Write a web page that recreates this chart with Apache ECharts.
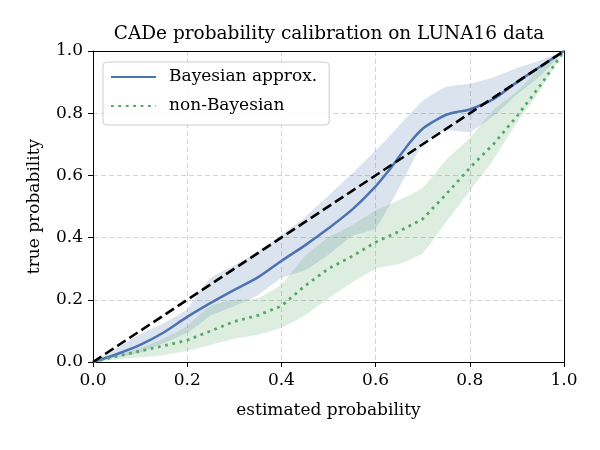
<!DOCTYPE html>
<html>
<head>
<meta charset="utf-8">
<script src="https://cdn.jsdelivr.net/npm/echarts@6/dist/echarts.min.js"></script>
<style>
  html, body { margin: 0; padding: 0; background: #fff; }
  #chart { width: 600px; height: 450px; }
</style>
</head>
<body>
<div id="chart"></div>
<script>
// curve data
var bayesX = [0, 0.05, 0.1, 0.15, 0.2, 0.25, 0.3, 0.35, 0.4, 0.45, 0.5, 0.55, 0.6, 0.625, 0.65, 0.675, 0.7, 0.725, 0.75, 0.775, 0.8, 0.85, 0.9, 0.95, 1];
var bayesY = [0, 0.025, 0.055, 0.095, 0.145, 0.19, 0.232, 0.272, 0.325, 0.375, 0.43, 0.49, 0.565, 0.61, 0.66, 0.71, 0.75, 0.775, 0.795, 0.805, 0.812, 0.845, 0.9, 0.95, 1];

var plainX = [0, 0.05, 0.1, 0.15, 0.2, 0.25, 0.3, 0.35, 0.4, 0.45, 0.5, 0.55, 0.6, 0.65, 0.7, 0.75, 0.8, 0.85, 0.9, 0.95, 1];
var plainY = [0, 0.018, 0.035, 0.052, 0.07, 0.1, 0.13, 0.15, 0.18, 0.245, 0.3, 0.34, 0.385, 0.42, 0.46, 0.54, 0.624, 0.7, 0.79, 0.89, 1];

// uncertainty bands
var bandX    = [0, 0.05, 0.1, 0.15, 0.2, 0.225, 0.25, 0.275, 0.3, 0.35, 0.4, 0.45, 0.5, 0.55, 0.6, 0.65, 0.7, 0.75, 0.8, 0.85, 0.9, 0.95, 1];
var bayesHi  = [0, 0.045, 0.09, 0.125, 0.17, 0.225, 0.27, 0.292, 0.31, 0.355, 0.41, 0.465, 0.535, 0.605, 0.68, 0.76, 0.84, 0.885, 0.895, 0.915, 0.945, 0.97, 1];
var bayesLo  = [0, 0.015, 0.03, 0.06, 0.095, 0.12, 0.15, 0.165, 0.18, 0.215, 0.27, 0.295, 0.345, 0.405, 0.43, 0.56, 0.7, 0.745, 0.74, 0.79, 0.86, 0.92, 1];
var plainHi  = [0, 0.022, 0.045, 0.075, 0.115, 0.15, 0.18, 0.192, 0.2, 0.205, 0.25, 0.34, 0.4, 0.44, 0.487, 0.52, 0.56, 0.65, 0.72, 0.81, 0.87, 0.945, 1];
var plainLo  = [0, 0.008, 0.015, 0.022, 0.035, 0.045, 0.055, 0.065, 0.075, 0.088, 0.11, 0.15, 0.205, 0.255, 0.3, 0.315, 0.35, 0.45, 0.55, 0.65, 0.77, 0.875, 1];

var diagX = [0, 1];
var diagY = [0, 1];

var tickStep = 0.2;

var FONT = 'DejaVu Serif';

function pairs(xs, ys) {
    return xs.map(function (x, i) { return [x, ys[i]]; });
}

function band(hi, lo, color) {
    return {
        type: 'custom',
        silent: true,
        data: [[0, 0]],
        z: 1,
        renderItem: function (params, api) {
            var pts = [];
            for (var i = 0; i < bandX.length; i++) {
                pts.push(api.coord([bandX[i], hi[i]]));
            }
            for (var j = bandX.length - 1; j >= 0; j--) {
                pts.push(api.coord([bandX[j], lo[j]]));
            }
            return {
                type: 'polygon',
                shape: { points: pts, smooth: 0.15 },
                style: { fill: color, opacity: 0.2 }
            };
        }
    };
}

var myChart = echarts.init(document.getElementById('chart'));

var axisCommon = {
    type: 'value',
    min: 0,
    max: 1,
    interval: tickStep,
    nameLocation: 'middle',
    nameTextStyle: { fontFamily: FONT, fontSize: 17, color: '#000' },
    axisLine: { show: true, lineStyle: { color: '#000', width: 1 } },
    axisTick: { show: true, length: 5, lineStyle: { color: '#000', width: 1 } },
    axisLabel: {
        fontFamily: FONT, fontSize: 17, color: '#000', margin: 10,
        formatter: function (v) { return v.toFixed(1); }
    },
    splitLine: {
        show: true, showMinLine: false, showMaxLine: false,
        lineStyle: { color: '#d4d4d4', width: 1, type: [5, 3] }
    }
};

// top / right spines only
var spine = {
    type: 'value', min: 0, max: 1, interval: tickStep,
    axisLine: { show: true, onZero: false, lineStyle: { color: '#000', width: 1 } },
    axisTick: { show: false }, axisLabel: { show: false }, splitLine: { show: false }
};

var option = {
    animation: false,
    backgroundColor: '#fff',
    title: {
        text: 'CADe probability calibration on LUNA16 data',
        left: 324,
        top: 20,
        textAlign: 'center',
        textStyle: { fontFamily: FONT, fontSize: 18.5, fontWeight: 'normal', color: '#000' }
    },
    grid: {
        left: 93, right: 36, top: 51, bottom: 88
    },
    legend: {
        orient: 'vertical',
        left: 103,
        top: 62,
        data: ['Bayesian approx.', 'non-Bayesian'],
        itemWidth: 45,
        itemHeight: 14,
        itemGap: 9,
        padding: [5, 12, 9, 7],
        backgroundColor: 'rgba(255,255,255,0.8)',
        borderColor: '#cccccc',
        borderWidth: 1,
        borderRadius: 4,
        itemStyle: { opacity: 0 },
        textStyle: { fontFamily: FONT, fontSize: 17, color: '#000', lineHeight: 20, padding: [0, 0, 0, 8] }
    },
    xAxis: [
        Object.assign({}, axisCommon, { name: 'estimated probability', nameGap: 40 }),
        Object.assign({}, spine, { position: 'top' })
    ],
    yAxis: [
        Object.assign({}, axisCommon, { name: 'true probability', nameGap: 50 }),
        Object.assign({}, spine, { position: 'right' })
    ],
    series: [
        band(bayesHi, bayesLo, '#4c72b0'),
        band(plainHi, plainLo, '#55a868'),
        {
            name: 'Bayesian approx.',
            type: 'line',
            data: pairs(bayesX, bayesY),
            showSymbol: false,
            symbol: 'none',
            smooth: 0.3,
            z: 3,
            lineStyle: { color: '#4c72b0', width: 2.5 },
            itemStyle: { color: '#4c72b0' }
        },
        {
            name: 'non-Bayesian',
            type: 'line',
            data: pairs(plainX, plainY),
            showSymbol: false,
            symbol: 'none',
            z: 3,
            lineStyle: { color: '#55a868', width: 2.8, type: [2.8, 4.6] },
            itemStyle: { color: '#55a868' }
        },
        {
            name: 'diagonal',
            type: 'line',
            data: pairs(diagX, diagY),
            showSymbol: false,
            symbol: 'none',
            z: 4,
            lineStyle: { color: '#000', width: 2.6, type: [10, 4.5] }
        }
    ]
};

myChart.setOption(option);
</script>
</body>
</html>
